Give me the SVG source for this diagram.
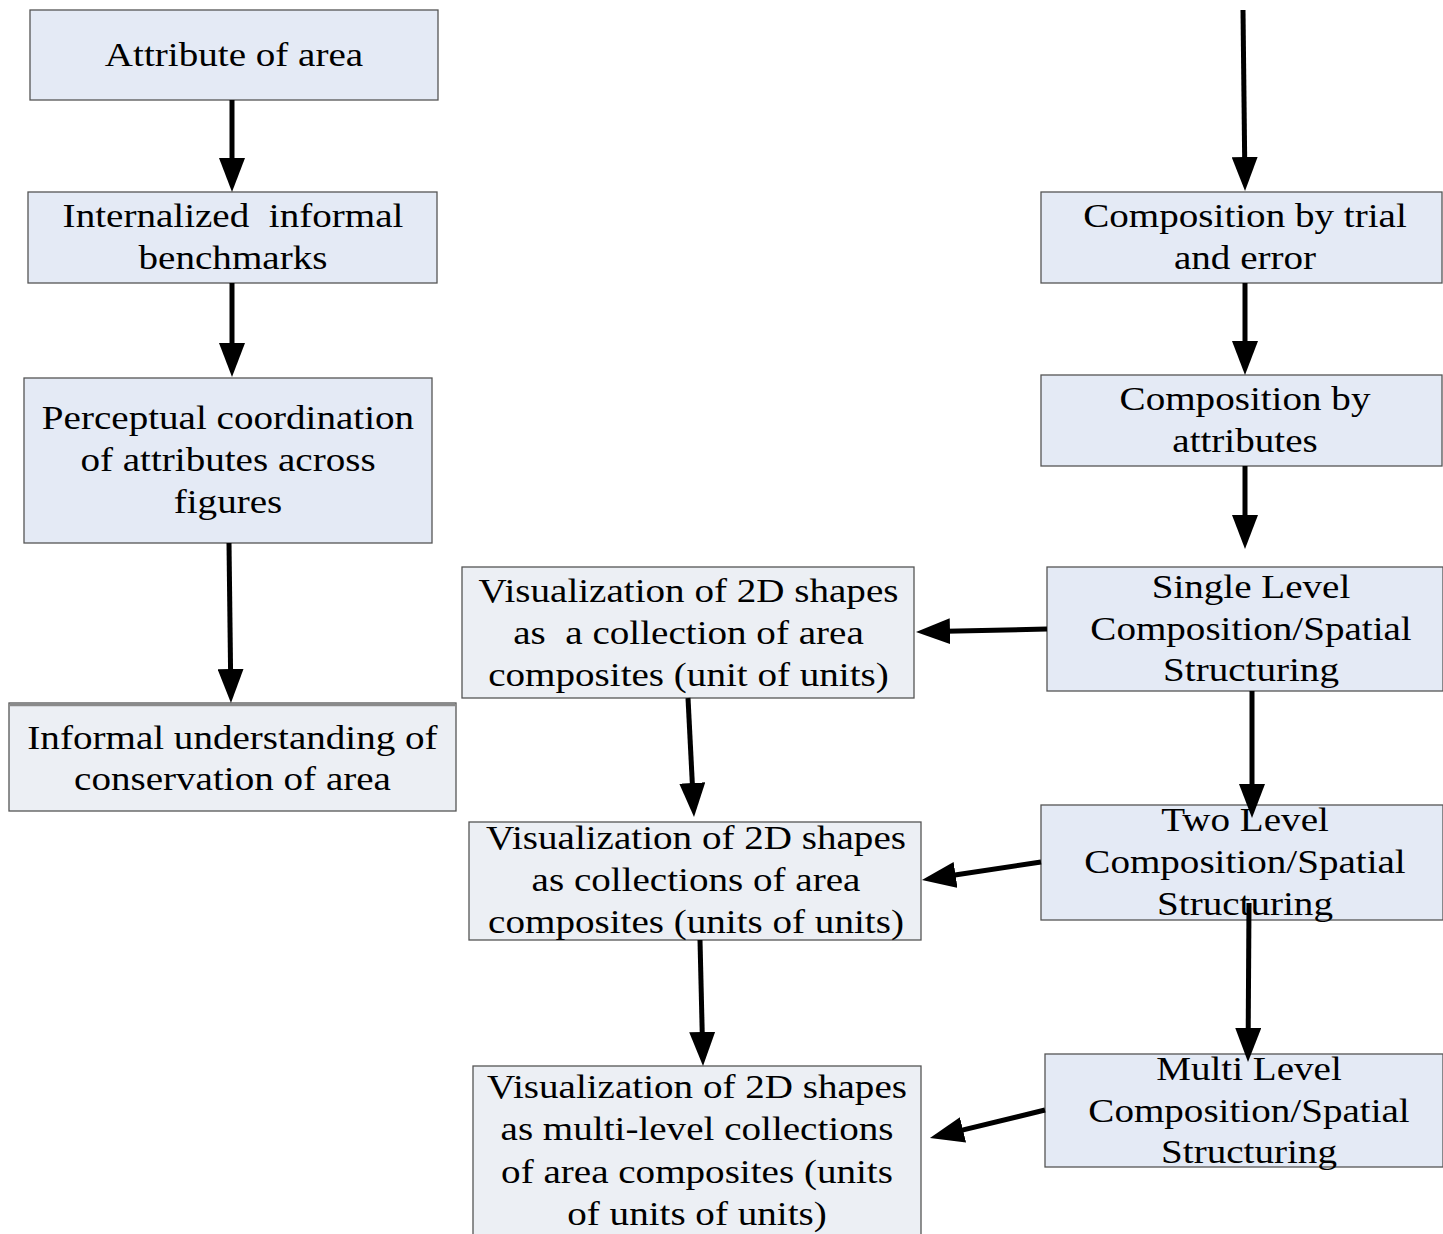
<svg xmlns="http://www.w3.org/2000/svg" width="1443" height="1234" viewBox="0 0 1443 1234">
<style>
.box{fill:#e4eaf5;stroke:#555;stroke-width:1.3}
.box2{fill:#eceff4;stroke:#555;stroke-width:1.3}
.t{font-family:"Liberation Serif","Times New Roman",serif;font-size:34px;fill:#000;text-anchor:middle}
.c{fill:none;stroke:#000;stroke-width:5;marker-end:url(#ah)}
</style>
<defs>
<marker id="ah" markerUnits="userSpaceOnUse" viewBox="0 0 34 26" markerWidth="34" markerHeight="26" refX="4" refY="13" orient="auto">
<path d="M0,0 L34,13 L0,26 z" fill="#000"/>
</marker>
</defs>
<rect width="1443" height="1234" fill="#fff"/>
<g id="n-attribute">
<rect class="box" x="30" y="10" width="408" height="90"/>
<text class="t" transform="translate(234 0) scale(1.15 1)"><tspan x="0" y="66">Attribute of area</tspan></text>
</g>
<g id="n-internalized">
<rect class="box" x="28" y="192" width="409" height="91"/>
<text class="t" transform="translate(233 0) scale(1.15 1)" xml:space="preserve"><tspan x="0" y="227">Internalized  informal</tspan><tspan x="0" y="269">benchmarks</tspan></text>
</g>
<g id="n-perceptual">
<rect class="box" x="24" y="378" width="408" height="165"/>
<text class="t" transform="translate(228 0) scale(1.15 1)"><tspan x="0" y="429">Perceptual coordination</tspan><tspan x="0" y="471">of attributes across</tspan><tspan x="0" y="513">figures</tspan></text>
</g>
<g id="n-informal">
<rect class="box2" x="9" y="703" width="447" height="108"/>
<line x1="9" y1="705" x2="456" y2="705" stroke="#8a8a8a" stroke-width="2.5"/>
<text class="t" transform="translate(232.5 0) scale(1.15 1)"><tspan x="0" y="749">Informal understanding of</tspan><tspan x="0" y="790">conservation of area</tspan></text>
</g>
<g id="n-trial">
<rect class="box" x="1041" y="192" width="401" height="91"/>
<text class="t" transform="translate(1245 0) scale(1.15 1)"><tspan x="0" y="227">Composition by trial</tspan><tspan x="0" y="269">and error</tspan></text>
</g>
<g id="n-byattr">
<rect class="box" x="1041" y="375" width="401" height="91"/>
<text class="t" transform="translate(1245 0) scale(1.15 1)"><tspan x="0" y="410">Composition by</tspan><tspan x="0" y="452">attributes</tspan></text>
</g>
<g id="n-single">
<rect class="box" x="1047" y="567" width="396" height="124"/>
<text class="t" transform="translate(1251 0) scale(1.15 1)"><tspan x="0" y="598">Single Level</tspan><tspan x="0" y="640">Composition/Spatial</tspan><tspan x="0" y="681">Structuring</tspan></text>
</g>
<g id="n-two">
<rect class="box" x="1041" y="805" width="402" height="115"/>
<text class="t" transform="translate(1245 0) scale(1.15 1)"><tspan x="0" y="831">Two Level</tspan><tspan x="0" y="873">Composition/Spatial</tspan><tspan x="0" y="915">Structuring</tspan></text>
</g>
<g id="n-multi">
<rect class="box" x="1045" y="1054" width="398" height="113"/>
<text class="t" transform="translate(1249 0) scale(1.15 1)"><tspan x="0" y="1080">Multi Level</tspan><tspan x="0" y="1122">Composition/Spatial</tspan><tspan x="0" y="1163">Structuring</tspan></text>
</g>
<g id="n-vis1">
<rect class="box2" x="462" y="567" width="452" height="131"/>
<text class="t" transform="translate(688.5 0) scale(1.15 1)" xml:space="preserve"><tspan x="0" y="602">Visualization of 2D shapes</tspan><tspan x="0" y="644">as  a collection of area</tspan><tspan x="0" y="686">composites (unit of units)</tspan></text>
</g>
<g id="n-vis2">
<rect class="box2" x="469" y="822" width="452" height="118"/>
<text class="t" transform="translate(696 0) scale(1.15 1)"><tspan x="0" y="849">Visualization of 2D shapes</tspan><tspan x="0" y="891">as collections of area</tspan><tspan x="0" y="933">composites (units of units)</tspan></text>
</g>
<g id="n-vis3">
<rect class="box2" x="473" y="1066" width="448" height="180"/>
<text class="t" transform="translate(697 0) scale(1.15 1)"><tspan x="0" y="1098">Visualization of 2D shapes</tspan><tspan x="0" y="1140">as multi-level collections</tspan><tspan x="0" y="1183">of area composites (units</tspan><tspan x="0" y="1225">of units of units)</tspan></text>
</g>
<g id="connectors">
<line class="c" x1="232" y1="100" x2="232" y2="162"/>
<line class="c" x1="232" y1="283" x2="232" y2="347"/>
<line class="c" x1="229" y1="543" x2="230.6" y2="673"/>
<line class="c" x1="1243" y1="10" x2="1244.7" y2="161"/>
<line class="c" x1="1245" y1="283" x2="1245" y2="345"/>
<line class="c" x1="1245" y1="466" x2="1245" y2="519"/>
<line class="c" x1="1252" y1="691" x2="1252" y2="788"/>
<line class="c" x1="1249" y1="903" x2="1248.2" y2="1032"/>
<line class="c" x1="1047" y1="629" x2="946" y2="631.3"/>
<line class="c" x1="1041" y1="862" x2="951.6" y2="875.5"/>
<line class="c" x1="1045" y1="1110" x2="959.1" y2="1130.9"/>
<line class="c" x1="688" y1="698" x2="692.5" y2="787"/>
<line class="c" x1="700" y1="940" x2="702.3" y2="1036"/>
</g>
</svg>
